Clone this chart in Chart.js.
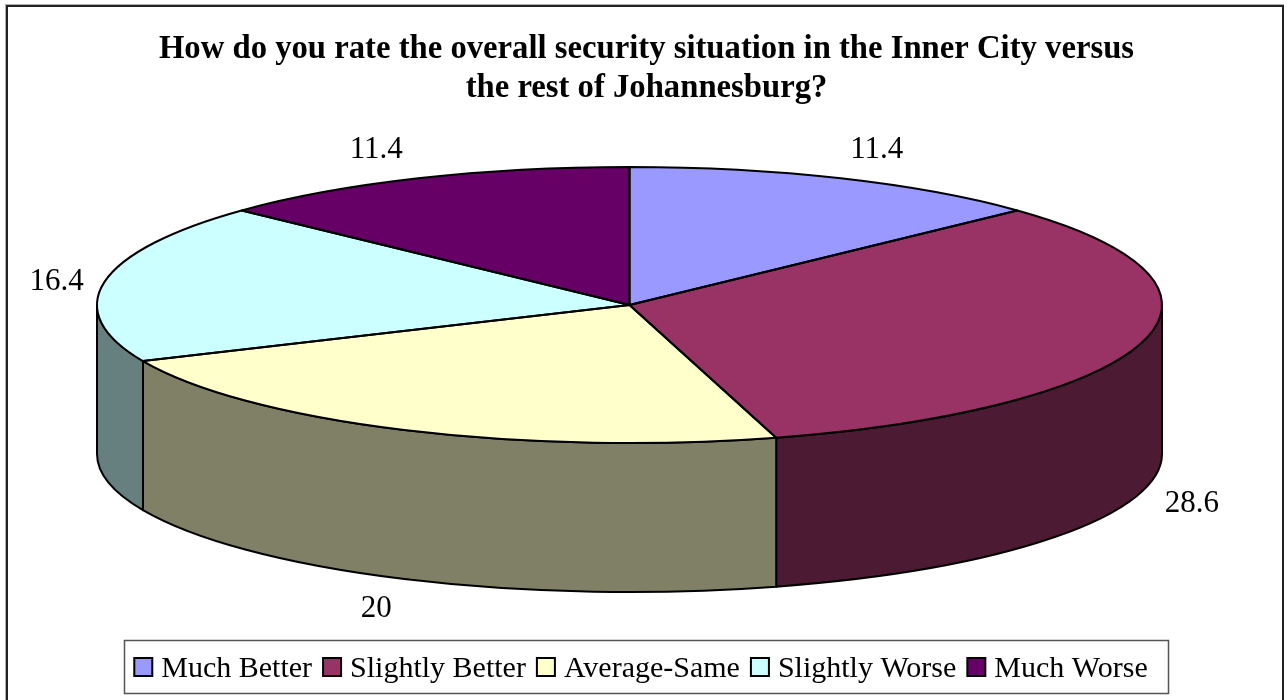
<!DOCTYPE html>
<html>
<head>
<meta charset="utf-8">
<style>html,body{margin:0;padding:0;background:#fff}canvas{display:block}</style>
<script src="https://cdn.jsdelivr.net/npm/chart.js@4"></script>
</head>
<body>
<div style="width:1288px;height:700px"><canvas id="c" width="1288" height="700"></canvas></div>
<script>
const categories = ['Much Better','Slightly Better','Average-Same','Slightly Worse','Much Worse'];
const seriesValues = [11.4,28.6,20,16.4,11.4];
const valueLabels = ['11.4','28.6','20','16.4','11.4'];
const topColors = ['#9999FF','#993366','#FFFFCC','#CCFFFF','#660066'];
const wallColors = ['#4C4C80','#4D1A33','#808066','#668080','#330033'];
const titleLines = ['How do you rate the overall security situation in the Inner City versus','the rest of Johannesburg?'];
const labelNudge = [[36,-28],[49,13],[-28,30],[-48,0],[-42,-28]];

const RX = 532.5, DEPTH = 149, SERIF = '"Liberation Serif"';
const canvas = document.getElementById('c');
const ctx0 = canvas.getContext('2d');

function geom(el){ return el.getProps(['x','y','startAngle','endAngle','outerRadius'],true); }

const pie3d = {
  id:'pie3d',
  beforeDraw(chart){
    const c = chart.ctx;
    c.save();
    c.fillStyle='#fff'; c.fillRect(0,0,1288,700);
    c.strokeStyle='#b0b0b0'; c.lineWidth=1; c.strokeRect(5.5,4.5,1278,720);
    c.strokeStyle='#222'; c.lineWidth=2; c.strokeRect(7,6,1276,720);
    c.restore();
  },
  afterLayout(chart){
    const l = chart.legend, h = l.bottom-l.top, shift = -5.5;
    l.top = 643; l.bottom = 643+h;
    l.left += shift; l.right += shift;
    l.legendHitBoxes.forEach(b=>{ b.left += shift; });
    chart.chartArea = {left:97,right:1162,top:167,bottom:443,width:1065,height:276};
  },
  beforeDatasetsDraw(chart){
    const c = chart.ctx, els = chart.getDatasetMeta(0).data;
    c.save();
    els.forEach((el,i)=>{
      const g = geom(el);
      const ranges = [[0,Math.PI],[2*Math.PI,3*Math.PI]];
      ranges.forEach(([lo,hi])=>{
        const a0 = Math.max(g.startAngle,lo), a1 = Math.min(g.endAngle,hi);
        if(a1<=a0) return;
        c.beginPath();
        c.ellipse(g.x,g.y,RX,g.outerRadius,0,a0,a1,false);
        c.ellipse(g.x,g.y+DEPTH,RX,g.outerRadius,0,a1,a0,true);
        c.closePath();
        c.fillStyle = wallColors[i];
        c.fill();
        c.strokeStyle='#000'; c.lineWidth=2; c.lineJoin='round';
        c.stroke();
      });
    });
    c.restore();
    const g0 = geom(els[0]);
    c.save();
    c.translate(g0.x,g0.y);
    c.scale(RX/g0.outerRadius,1);
    c.translate(-g0.x,-g0.y);
  },
  afterDatasetsDraw(chart){
    const c = chart.ctx, els = chart.getDatasetMeta(0).data;
    c.restore();
    c.save();
    c.strokeStyle='#000'; c.lineWidth=2; c.lineJoin='round';
    els.forEach(el=>{
      const g = geom(el);
      c.beginPath();
      c.moveTo(g.x,g.y);
      c.ellipse(g.x,g.y,RX,g.outerRadius,0,g.startAngle,g.endAngle,false);
      c.closePath();
      c.stroke();
    });
    c.restore();
  },
  afterDraw(chart){
    const c = chart.ctx, els = chart.getDatasetMeta(0).data, lg = chart.legend;
    c.save();
    c.strokeStyle='#555'; c.lineWidth=1.5;
    c.strokeRect(124.5,640.5,1044,53);
    lg.legendHitBoxes.forEach((b,i)=>{
      c.fillStyle=topColors[i]; c.strokeStyle='#000'; c.lineWidth=2;
      c.fillRect(b.left,658,18,18); c.strokeRect(b.left,658,18,18);
    });
    c.font='31px '+SERIF; c.fillStyle='#000'; c.textAlign='center'; c.textBaseline='middle';
    els.forEach((el,i)=>{
      const g = geom(el), m=(g.startAngle+g.endAngle)/2;
      const sin=Math.sin(m);
      const x=g.x+RX*Math.cos(m), y=g.y+g.outerRadius*sin+(sin>0?DEPTH:0);
      c.fillText(valueLabels[i],x+labelNudge[i][0],y+labelNudge[i][1]);
    });
    c.restore();
  }
};

new Chart(ctx0,{
  type:'pie',
  data:{labels:categories,datasets:[{data:seriesValues,backgroundColor:topColors,borderWidth:0,hoverOffset:0}]},
  options:{
    responsive:false,animation:false,
    layout:{padding:{left:5,right:0,top:0,bottom:0}},
    plugins:{
      tooltip:{enabled:false},
      title:{display:true,text:titleLines,color:'#000',padding:{top:30,bottom:10},
        font:{family:SERIF,size:32.7,weight:'bold',lineHeight:1.2}},
      legend:{display:true,position:'bottom',
        labels:{color:'#000',boxWidth:12,boxHeight:12,padding:11,
          font:{family:SERIF,size:30},
          generateLabels(chart){return categories.map((t,i)=>({text:t,fillStyle:'rgba(0,0,0,0)',strokeStyle:'rgba(0,0,0,0)',lineWidth:0,index:i,hidden:false}));}}}
    }
  },
  plugins:[pie3d]
});
</script>
</body>
</html>
